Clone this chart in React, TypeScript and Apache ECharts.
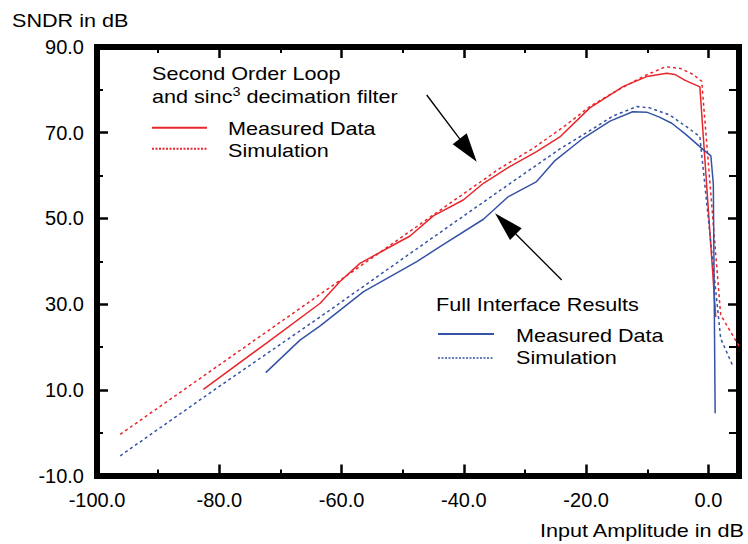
import React, { useEffect, useRef } from 'react';
import * as echarts from 'echarts';

const FONT = '"Liberation Sans", Arial, Helvetica, sans-serif';
const RED = '#e8262b';
const BLUE = '#3553a6';
const SX = 1.2;

// Second order loop + sinc^3 decimation filter
const loopMeasured: [number, number][] = [
  [-82.6, 10.1], [-72, 21.2], [-63.5, 30.2], [-60.3, 35.2], [-57, 39.5], [-51, 44.2],
  [-48.8, 45.9], [-45, 50.6], [-40.1, 54.3], [-36.8, 58.2], [-32.5, 62.1], [-28.1, 65.6],
  [-24.3, 69.0], [-19.4, 75.8], [-13.9, 80.8], [-10.1, 83.1], [-6.8, 83.9], [-5.5, 83.6],
  [-3.8, 82.2], [-1.4, 80.7], [1.2, 27.0],
];
const loopSimulation: [number, number][] = [
  [-96.2, -0.4], [-80, 15.8], [-60, 35.8], [-40, 55.8], [-34.1, 61.7], [-28.6, 66.4],
  [-23.2, 71.9], [-19.4, 76.1], [-16.1, 78.9], [-12.3, 81.9], [-10.1, 83.5], [-7.0, 85.4],
  [-4.6, 85.0], [-2.5, 83.6], [-1.1, 82.0], [2.0, 27.5], [5.0, 20.2],
];
// Full interface results
const fullMeasured: [number, number][] = [
  [-72.4, 14.0], [-66.8, 21.6], [-63.5, 24.9], [-56.4, 32.9], [-47.7, 39.9], [-43.9, 43.4],
  [-36.8, 49.8], [-32.7, 55.1], [-28.1, 58.6], [-25.1, 63.5], [-20.5, 68.7], [-16.1, 72.7],
  [-12.4, 74.9], [-10.1, 74.8], [-8.1, 73.7], [-6.0, 72.2], [-3.7, 69.6], [-0.8, 66.0],
  [0.4, 64.6], [0.8, 58.0], [1.1, 4.5],
];
const fullSimulation: [number, number][] = [
  [-96.2, -5.4], [-80, 10.8], [-63.5, 27.0], [-50, 40.6], [-33, 57.6], [-24.3, 66.2],
  [-18.8, 71.0], [-15.6, 73.9], [-11.7, 76.1], [-9.6, 75.8], [-6.3, 74.1], [-3.6, 71.4],
  [-1.4, 69.1], [2.0, 22.0], [4.0, 15.5],
];

const xMin = -100;
const xMax = 5;
const xStep = 20;
const yMin = -10;
const yMax = 90;
const yStep = 20;

const yTitle = 'SNDR in dB';
const xTitle = 'Input Amplitude in dB';
const group1Title = 'Second Order Loop';
const measuredLabel = 'Measured Data';
const simulationLabel = 'Simulation';
const group2Title = 'Full Interface Results';

function axisBase(position: string, min: number, max: number, interval: number, len: number, minorLen: number) {
  return {
    type: 'value',
    position,
    min,
    max,
    interval,
    axisTick: { show: true, inside: true, length: len, lineStyle: { color: '#000', width: 2.5 } },
    minorTick: { show: true, splitNumber: 2, length: minorLen, lineStyle: { color: '#000', width: 2 } },
    splitLine: { show: false },
    axisLine: { show: true, onZero: false, lineStyle: { color: '#000', width: 6, cap: 'square' } },
  };
}

function txt(x: number, y: number, text: string, align = 'left') {
  return {
    type: 'text',
    x,
    y,
    scaleX: SX,
    z: 100,
    style: {
      text,
      fontSize: 18,
      fontFamily: FONT,
      fill: '#000',
      align,
      verticalAlign: 'middle',
    },
  };
}

function seg(x1: number, y1: number, x2: number, y2: number, stroke: string, lineWidth: number, lineDash?: number[]) {
  return {
    type: 'line',
    z: 100,
    shape: { x1, y1, x2, y2 },
    style: { stroke, lineWidth, lineDash },
  };
}

export default function App() {
  const ref = useRef<HTMLDivElement>(null);

  useEffect(() => {
    if (!ref.current) return;
    const chart = echarts.init(ref.current, undefined, { renderer: 'svg' });
    const labelStyle = { fontSize: 20, fontFamily: FONT, color: '#000' };
    chart.setOption({
      animation: false,
      grid: { left: 97, right: 9, top: 47, bottom: 68.5, show: false },
      xAxis: [
        {
          ...axisBase('bottom', xMin, xMax, xStep, 11, 6),
          axisLabel: {
            ...labelStyle, margin: 14, showMaxLabel: false,
            formatter: (v: number) => (v > 0 ? '' : v.toFixed(1)),
          },
        },
        { ...axisBase('top', xMin, xMax, xStep, 11, 6), axisLabel: { show: false } },
      ],
      yAxis: [
        {
          ...axisBase('left', yMin, yMax, yStep, 11, 6),
          axisLabel: { ...labelStyle, margin: 13, formatter: (v: number) => v.toFixed(1) },
        },
        { ...axisBase('right', yMin, yMax, yStep, 11, 10), axisLabel: { show: false } },
      ],
      series: [
        {
          name: group1Title + ' - ' + measuredLabel, type: 'line', data: loopMeasured,
          showSymbol: false, symbol: 'none', lineStyle: { color: RED, width: 1.5 },
        },
        {
          name: group1Title + ' - ' + simulationLabel, type: 'line', data: loopSimulation,
          showSymbol: false, symbol: 'none', lineStyle: { color: RED, width: 1.5, type: [3, 3] },
        },
        {
          name: group2Title + ' - ' + measuredLabel, type: 'line', data: fullMeasured,
          showSymbol: false, symbol: 'none', lineStyle: { color: BLUE, width: 1.5 },
        },
        {
          name: group2Title + ' - ' + simulationLabel, type: 'line', data: fullSimulation,
          showSymbol: false, symbol: 'none', lineStyle: { color: BLUE, width: 1.5, type: [3, 3] },
        },
      ],
      graphic: [
        txt(12, 21, yTitle),
        txt(744, 531, xTitle, 'right'),
        txt(152, 73.5, group1Title),
        {
          type: 'text', x: 152, y: 96.5, scaleX: SX, z: 100,
          style: {
            text: '{n|and sinc}{s|3}{n| decimation filter}',
            fontSize: 18, fontFamily: FONT, fill: '#000', align: 'left', verticalAlign: 'middle',
            rich: {
              n: { fontSize: 18, lineHeight: 22, fontFamily: FONT, fill: '#000', verticalAlign: 'middle' },
              s: { fontSize: 12, lineHeight: 16, fontFamily: FONT, fill: '#000', verticalAlign: 'top' },
            },
          },
        },
        seg(152, 127.7, 207, 127.7, RED, 2),
        txt(228, 128.8, measuredLabel),
        seg(152, 148.7, 207, 148.7, RED, 2, [2, 1.5]),
        txt(228, 150.3, simulationLabel),
        txt(436, 304.5, group2Title),
        seg(438, 334, 494, 334, BLUE, 2),
        txt(516, 335.8, measuredLabel),
        seg(438, 358, 494, 358, BLUE, 1.5, [2, 1.5]),
        txt(516, 358, simulationLabel),
        // arrows
        seg(426.7, 95, 459.7, 138.8, '#000', 1.3),
        {
          type: 'polygon', z: 100,
          shape: { points: [[452.7, 144.3], [466.7, 133.3], [476.7, 161.7]] },
          style: { fill: '#000' },
        },
        seg(561.7, 280, 515.8, 234, '#000', 1.3),
        {
          type: 'polygon', z: 100,
          shape: { points: [[510, 240], [521.7, 228.3], [495, 213.3]] },
          style: { fill: '#000' },
        },
      ],
    });
    return () => chart.dispose();
  }, []);

  return (
    <div
      ref={ref}
      style={{ position: 'absolute', left: 0, top: 0, width: 748, height: 544, background: '#fff' }}
    />
  );
}
